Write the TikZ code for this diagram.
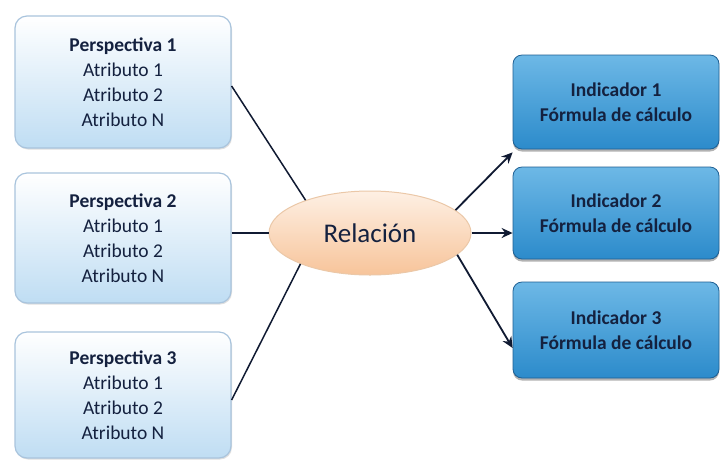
\documentclass[tikz,border=0pt]{standalone}
\usepackage{fontspec}
\setmainfont{Carlito}
\usetikzlibrary{shapes.geometric,arrows.meta,shadows}
\definecolor{navy}{HTML}{14213F}
\definecolor{lblue}{HTML}{BFDDF3}
\definecolor{lborder}{HTML}{A9C4DD}
\definecolor{dblue}{HTML}{2C8BCB}
\definecolor{mblue}{HTML}{6DB8E6}
\definecolor{dborder}{HTML}{1E5F93}
\definecolor{peach}{HTML}{F7C49A}
\definecolor{peachlight}{HTML}{FEF0E4}
\definecolor{peachborder}{HTML}{EBC8A8}
\tikzset{
  persp/.style={draw=lborder, line width=1.2pt, rounded corners=12pt,
    top color=white, bottom color=lblue, minimum width=216pt,
    text=navy, font=\fontsize{19.5}{25}\selectfont, align=center,
    drop shadow={shadow xshift=1pt, shadow yshift=-1.5pt, opacity=0.25}},
  indic/.style={draw=dborder, line width=0.8pt, rounded corners=9pt,
    top color=mblue, bottom color=dblue, minimum width=206pt,
    text=navy, font=\bfseries\fontsize{19.5}{25}\selectfont, align=center,
    drop shadow={shadow xshift=0pt, shadow yshift=-2.5pt, opacity=0.6}},
  rel/.style={ellipse, draw=peachborder, line width=1pt,
    top color=peachlight, bottom color=peach, minimum width=202pt,
    minimum height=84pt, inner sep=0pt, text=navy,
    font=\fontsize{27}{30}\selectfont},
  link/.style={draw=navy!80!black, line width=1.5pt},
  arr/.style={link, line width=1.8pt, -{Stealth[length=11pt,width=10pt]}}
}
\begin{document}
\begin{tikzpicture}[x=1pt,y=-1pt]
\useasboundingbox[fill=white] (0,0) rectangle (723,459);

\node[persp, minimum height=132pt] (p1) at (123,82)
  {\textbf{Perspectiva 1}\\Atributo 1\\Atributo 2\\Atributo N};
\node[persp, minimum height=130pt] (p2) at (123,238)
  {\textbf{Perspectiva 2}\\Atributo 1\\Atributo 2\\Atributo N};
\node[persp, minimum height=126pt] (p3) at (123,395)
  {\textbf{Perspectiva 3}\\Atributo 1\\Atributo 2\\Atributo N};

\node[rel] (r) at (370,233) {Relación};

\node[indic, minimum height=94pt] (i1) at (616,102)
  {Indicador 1\\Fórmula de cálculo};
\node[indic, minimum height=92pt] (i2) at (616,213)
  {Indicador 2\\Fórmula de cálculo};
\node[indic, minimum height=96pt] (i3) at (616,330)
  {Indicador 3\\Fórmula de cálculo};

\coordinate (a1) at ([yshift=-4pt]p1.east);
\coordinate (a3) at ([yshift=-5pt]p3.east);
\draw[link] (a1) -- (r.153);
\draw[link] (p2.east |- r.west) -- (r.west);
\draw[link] (a3) -- (r.204);

\draw[arr] (r.15) -- ([yshift=-3pt]i1.south west);
\draw[arr] (r.east) -- (i2.west |- r.east);
\draw[arr] (r.-14) -- ([yshift=-18pt]i3.west);
\end{tikzpicture}
\end{document}
